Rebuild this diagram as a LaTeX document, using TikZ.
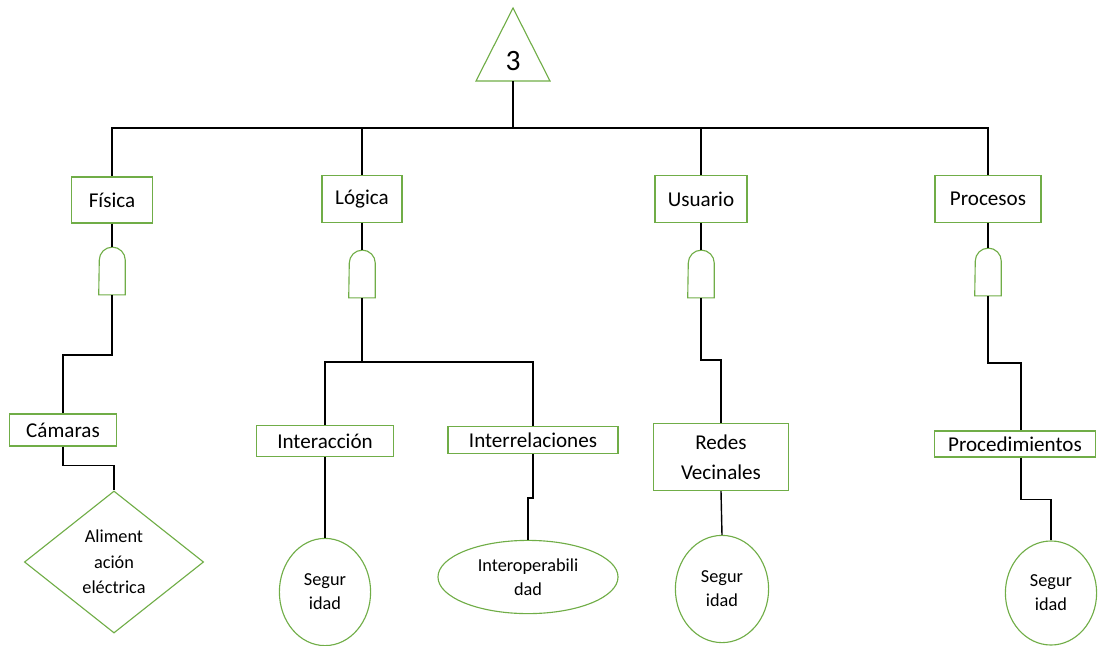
\documentclass[tikz,border=0pt]{standalone}
\usepackage{fontspec}
\setmainfont{Carlito}
\usetikzlibrary{shapes.geometric}
\definecolor{boxGreen}{RGB}{112,173,71}

\begin{document}
\begin{tikzpicture}[x=0.025cm, y=0.025cm]
  \tikzstyle{event} = [draw=boxGreen, line width=0.8pt, fill=white, rectangle, inner sep=0pt, align=center, font={\fontsize{15}{21}\selectfont}]
  \tikzstyle{gate} = [inner sep=0pt, minimum width=0.65cm, minimum height=1.18cm]
  \tikzstyle{basicEvent} = [draw=boxGreen, line width=0.8pt, ellipse, inner sep=0pt, align=center, font={\fontsize{13}{17}\selectfont}]
  \tikzstyle{cond} = [basicEvent, diamond, font={\fontsize{13}{18}\selectfont}]
  \tikzstyle{treeEdge} = [black, line width=1pt];
  \tikzstyle{gateLine} = [boxGreen, line width=0.8pt];

  \useasboundingbox (0,0) rectangle (1101,-646);

  % top event
  \draw[gateLine] (476,-81) -- (513,-8) -- (550,-81) -- cycle;
  \node[font={\fontsize{21}{24}\selectfont}] (top) at (513,-61) {3};
  \coordinate (tb) at (513,-81);
  \coordinate (bar) at (513,-128);

  % categories
  \node[event, minimum width=2.03cm, minimum height=1.15cm] (fis) at (112,-200) {Física};
  \node[event, minimum width=2cm, minimum height=1.17cm] (log) at (362,-199) {Lógica};
  \node[event, minimum width=2.3cm, minimum height=1.17cm] (usu) at (701,-199) {Usuario};
  \node[event, minimum width=2.65cm, minimum height=1.17cm] (proc) at (988,-199) {Procesos};

  % and gates
  \node[gate] (g1) at (112,-271) {};
  \node[gate] (g2) at (362,-274) {};
  \node[gate] (g3) at (701,-274) {};
  \node[gate] (g4) at (988,-272) {};
  \foreach \g in {g1,g2,g3,g4}
    \draw[gateLine] (\g.south west) -- (\g.south east) -- ([yshift=-0.325cm]\g.north east)
      arc[start angle=0, end angle=180, radius=0.325cm] -- cycle;

  % intermediate events
  \node[event, minimum width=2.68cm, minimum height=0.8cm] (cam) at (63,-430) {Cámaras};
  \node[event, minimum width=3.43cm, minimum height=0.78cm] (intr) at (325,-441) {Interacción};
  \node[event, minimum width=4.25cm, minimum height=0.68cm] (rel) at (533,-440) {Interrelaciones};
  \node[event, minimum width=3.38cm, minimum height=1.68cm] (red) at (721,-457) {Redes\\Vecinales};
  \node[event, minimum width=4.03cm, minimum height=0.65cm] (prcd) at (1015,-444) {Procedimientos};

  % basic events
  \node[cond, minimum width=4.48cm, minimum height=3.55cm] (ali) at (114,-562) {Aliment\\ación\\eléctrica};
  \node[basicEvent, minimum width=2.28cm, minimum height=2.68cm] (seg1) at (325,-592) {Segur\\idad};
  \node[basicEvent, minimum width=4.5cm, minimum height=1.83cm] (iop) at (528,-577) {Interoperabili\\dad};
  \node[basicEvent, minimum width=2.33cm, minimum height=2.68cm] (seg3) at (722,-589) {Segur\\idad};
  \node[basicEvent, minimum width=2.28cm, minimum height=2.6cm] (seg4) at (1051,-593) {Segur\\idad};

  % edges
  \draw[treeEdge] (tb) -- (bar);
  \foreach \n in {fis,log,usu,proc}
    \draw[treeEdge] (bar) -| (\n.north);
  \draw[treeEdge] (fis.south) -- (g1.north);
  \draw[treeEdge] (log.south) -- (g2.north);
  \draw[treeEdge] (usu.south) -- (g3.north);
  \draw[treeEdge] (proc.south) -- (g4.north);

  \draw[treeEdge] (g1.south) -- ++(0,-60) -| (cam.north);
  \draw[treeEdge] (cam.south) -- ++(0,-19) -| (ali.north);
  \draw[treeEdge] (g2.south) -- ++(0,-64) coordinate (split);
  \draw[treeEdge] (split) -| (intr.north);
  \draw[treeEdge] (split) -| (rel.north);
  \draw[treeEdge] (intr.south) -- (seg1.north);
  \draw[treeEdge] (rel.south) -- ++(0,-44) -| (iop.north);
  \draw[treeEdge] (g3.south) -- ++(0,-62) -| (red.north);
  \draw[treeEdge] (red.south) -- (seg3.north);
  \draw[treeEdge] (g4.south) -- ++(0,-67) -| ([xshift=0.15cm]prcd.north);
  \draw[treeEdge] ([xshift=0.15cm]prcd.south) -- ++(0,-42) -| (seg4.north);
\end{tikzpicture}
\end{document}
